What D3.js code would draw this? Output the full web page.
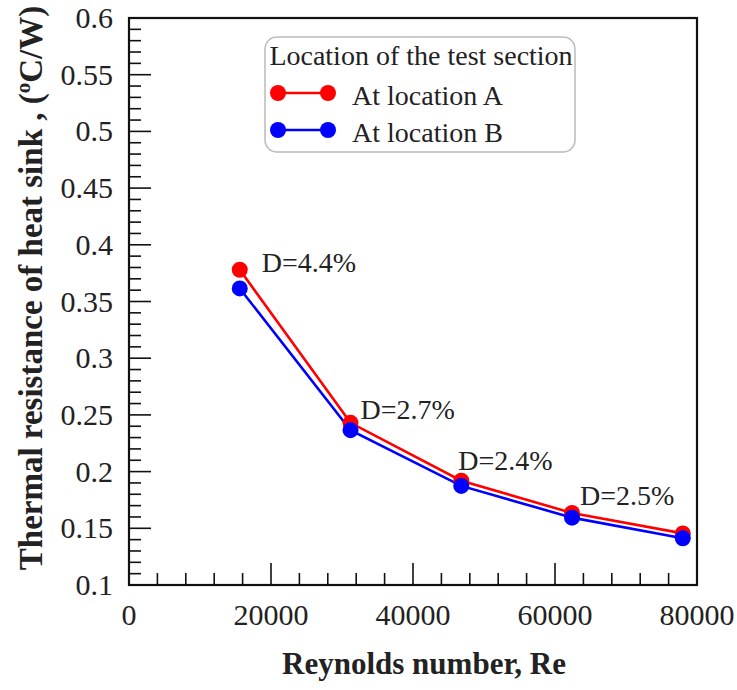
<!DOCTYPE html>
<html>
<head>
<meta charset="utf-8">
<script src="https://cdn.jsdelivr.net/npm/d3@7"></script>
<style>
  body { margin: 0; background: #fff; }
</style>
</head>
<body>
<div class="canvas"></div>
<script>
// data
const reynolds = [15600, 31200, 46800, 62400, 78000];
const locationA = [0.378, 0.243, 0.192, 0.1635, 0.1455];
const locationB = [0.3615, 0.2365, 0.1874, 0.1594, 0.1412];
const deviation = ['D=4.4%', 'D=2.7%', 'D=2.4%', 'D=2.5%'];
const xTicks = [0, 20000, 40000, 60000, 80000];
const yTicks = [0.1, 0.15, 0.2, 0.25, 0.3, 0.35, 0.4, 0.45, 0.5, 0.55, 0.6];
const seriesNames = ['At location A', 'At location B'];
const seriesColors = ['#ff0000', '#0000ff'];

// label offsets from the red points
const labelOffsets = [[22, 2], [10, -4], [-3, -11], [8, -8]];

// graph setup
const dims = { width: 737, height: 690 };
const plot = { left: 129, right: 697, top: 18, bottom: 585 };
const serif = 'Liberation Serif';
const ink = '#222';

const svg = d3.select('.canvas')
  .append('svg')
  .attr('width', dims.width)
  .attr('height', dims.height);

// helper for serif text
const addText = (sel, size) => sel
  .attr('font-family', serif)
  .attr('font-size', size)
  .attr('fill', ink);

// scales
const x = d3.scaleLinear().domain([0, 80000]).range([plot.left, plot.right]);
const y = d3.scaleLinear().domain([0.1, 0.6]).range([plot.bottom, plot.top]);

// minor ticks
const xMinor = d3.range(0, 80001, 4000).filter(v => v % 20000 !== 0);
const yMinor = d3.range(10, 61, 1).map(v => v / 100).filter(v => Math.round(v * 100) % 5 !== 0);

const ticks = svg.append('g').attr('stroke', '#111').attr('stroke-width', 1.6);

ticks.selectAll('.xmaj')
  .data(xTicks.slice(1, -1))
  .enter().append('line')
  .attr('x1', d => x(d)).attr('x2', d => x(d))
  .attr('y1', plot.bottom).attr('y2', plot.bottom - 22);

ticks.selectAll('.xmin')
  .data(xMinor)
  .enter().append('line')
  .attr('x1', d => x(d)).attr('x2', d => x(d))
  .attr('y1', plot.bottom).attr('y2', plot.bottom - 12);

ticks.selectAll('.ymaj')
  .data(yTicks.slice(1, -1))
  .enter().append('line')
  .attr('y1', d => y(d)).attr('y2', d => y(d))
  .attr('x1', plot.left).attr('x2', plot.left + 22);

ticks.selectAll('.ymin')
  .data(yMinor)
  .enter().append('line')
  .attr('y1', d => y(d)).attr('y2', d => y(d))
  .attr('x1', plot.left).attr('x2', plot.left + 12);

// frame
svg.append('rect')
  .attr('x', plot.left).attr('y', plot.top)
  .attr('width', plot.right - plot.left)
  .attr('height', plot.bottom - plot.top)
  .attr('fill', 'none')
  .attr('stroke', '#111')
  .attr('stroke-width', 2.2);

// tick labels
svg.selectAll('.xlab')
  .data(xTicks)
  .enter().append('text')
  .call(addText, 30)
  .attr('x', d => x(d))
  .attr('y', 625)
  .attr('text-anchor', 'middle')
  .text(d => d);

svg.selectAll('.ylab')
  .data(yTicks)
  .enter().append('text')
  .call(addText, 30)
  .attr('x', 113)
  .attr('y', d => y(d) + 10)
  .attr('text-anchor', 'end')
  .text(d => d);

// axis titles
svg.append('text')
  .call(addText, 31)
  .attr('x', 424).attr('y', 674)
  .attr('text-anchor', 'middle')
  .attr('font-weight', 'bold')
  .text('Reynolds number, Re');

const yTitle = svg.append('text')
  .call(addText, 33)
  .attr('transform', 'translate(42, 288) rotate(-90)')
  .attr('text-anchor', 'middle')
  .attr('font-weight', 'bold');
yTitle.append('tspan').text('Thermal resistance of heat sink , (');
yTitle.append('tspan').attr('font-size', 21).attr('dy', -12).text('o');
yTitle.append('tspan').attr('dy', 12).text('C/W)');

// lines and markers
const line = d3.line()
  .x((d, i) => x(reynolds[i]))
  .y(d => y(d));

[locationA, locationB].forEach((series, k) => {
  svg.append('path')
    .attr('d', line(series))
    .attr('fill', 'none')
    .attr('stroke', seriesColors[k])
    .attr('stroke-width', 2.6);
});

[locationA, locationB].forEach((series, k) => {
  svg.selectAll('.dot' + k)
    .data(series)
    .enter().append('circle')
    .attr('cx', (d, i) => x(reynolds[i]))
    .attr('cy', d => y(d))
    .attr('r', 8)
    .attr('fill', seriesColors[k]);
});

// deviation labels
svg.selectAll('.dev')
  .data(deviation)
  .enter().append('text')
  .call(addText, 28)
  .attr('x', (d, i) => x(reynolds[i]) + labelOffsets[i][0])
  .attr('y', (d, i) => y(locationA[i]) + labelOffsets[i][1])
  .text(d => d);

// legend
const legend = svg.append('g');
legend.append('rect')
  .attr('x', 265).attr('y', 37)
  .attr('width', 310).attr('height', 115)
  .attr('rx', 12)
  .attr('fill', '#fff')
  .attr('stroke', '#bbb')
  .attr('stroke-width', 1.5);

legend.append('text')
  .call(addText, 28)
  .attr('x', 421).attr('y', 65)
  .attr('text-anchor', 'middle')
  .text('Location of the test section');

seriesNames.forEach((name, k) => {
  const ly = 93 + k * 37;
  legend.append('line')
    .attr('x1', 278).attr('x2', 328)
    .attr('y1', ly).attr('y2', ly)
    .attr('stroke', seriesColors[k])
    .attr('stroke-width', 2.6);
  legend.selectAll('.ld' + k)
    .data([278, 328])
    .enter().append('circle')
    .attr('cx', d => d).attr('cy', ly)
    .attr('r', 8)
    .attr('fill', seriesColors[k]);
  legend.append('text')
    .call(addText, 28)
    .attr('x', 352).attr('y', ly + 12)
    .text(name);
});
</script>
</body>
</html>
